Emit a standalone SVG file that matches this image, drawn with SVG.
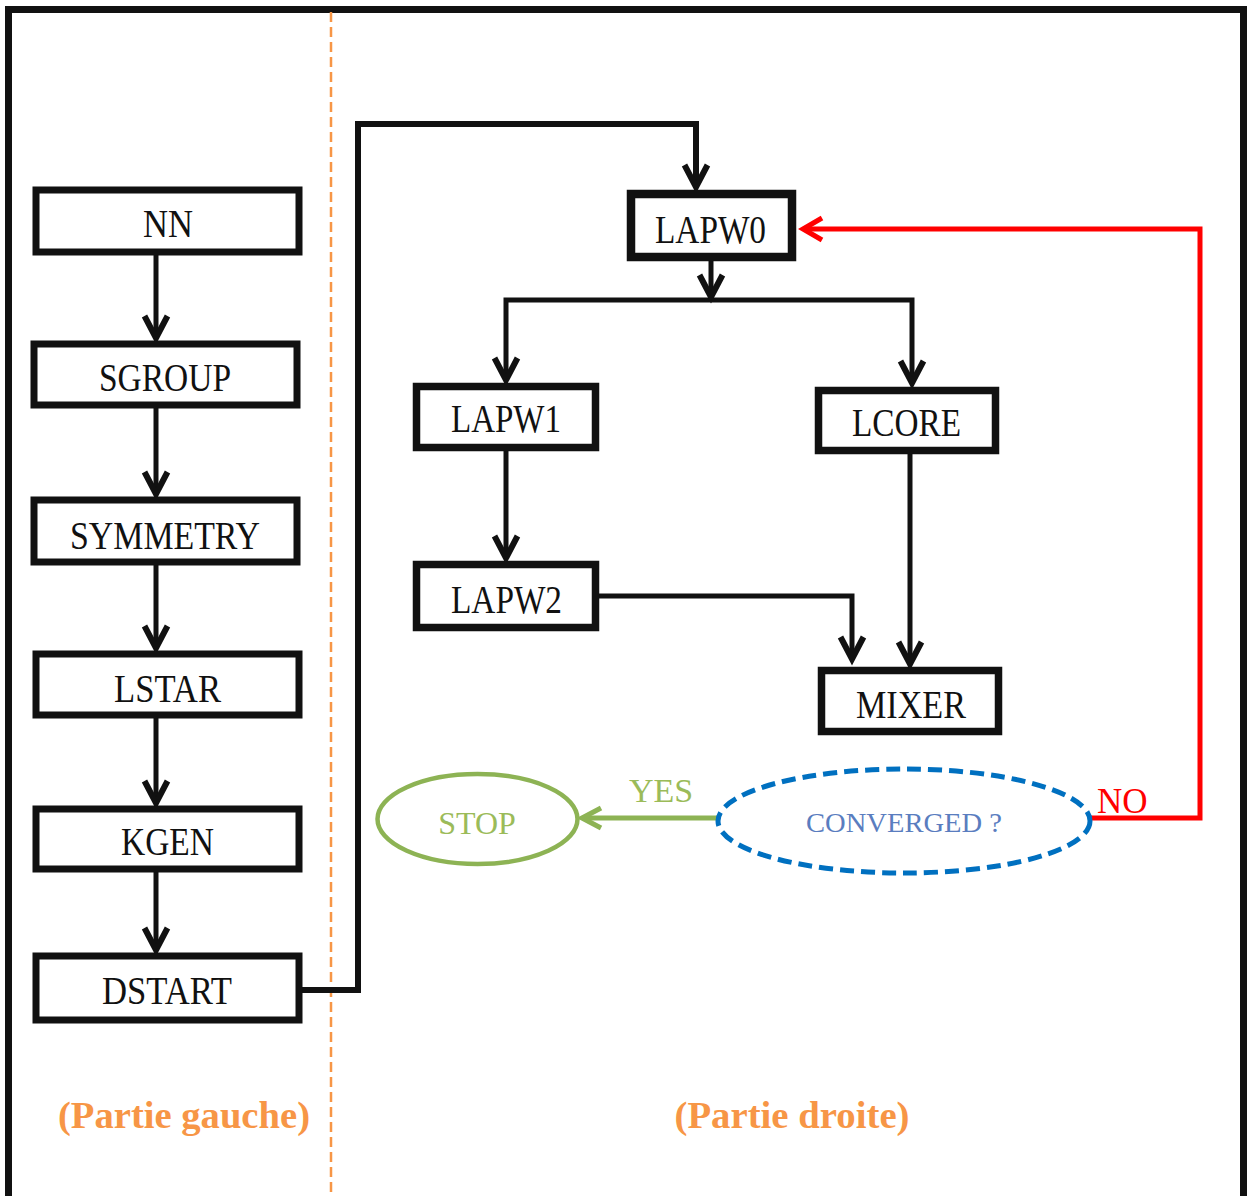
<svg xmlns="http://www.w3.org/2000/svg" width="1251" height="1196" viewBox="0 0 1251 1196">
<style>
.box{fill:#fff;stroke:#111;stroke-width:7}
.boxr{fill:#fff;stroke:#111;stroke-width:7.5}
.lbl{font-family:"Liberation Serif","Times New Roman",serif;font-size:40px;fill:#111;text-anchor:middle}
.con{fill:none;stroke:#111;stroke-width:5}
.part{font-family:"Liberation Serif","Times New Roman",serif;font-size:37px;font-weight:bold;fill:#F79646;text-anchor:middle}
</style>
<defs>
<marker id="arr" markerUnits="userSpaceOnUse" viewBox="-26 -16 30 32" refX="0" refY="0" markerWidth="30" markerHeight="32" orient="auto" overflow="visible">
<path d="M-22,-11.5 L0,0 L-22,11.5" fill="none" stroke="#111" stroke-width="6" stroke-linejoin="miter"/>
</marker>
<marker id="arrR" markerUnits="userSpaceOnUse" viewBox="-26 -16 30 32" refX="0" refY="0" markerWidth="30" markerHeight="32" orient="auto" overflow="visible">
<path d="M-19,-11 L0,0 L-19,11" fill="none" stroke="#ff0000" stroke-width="5"/>
</marker>
<marker id="arrG" markerUnits="userSpaceOnUse" viewBox="-26 -16 30 32" refX="0" refY="0" markerWidth="30" markerHeight="32" orient="auto" overflow="visible">
<path d="M-19,-10 L0,0 L-19,10" fill="none" stroke="#8DB354" stroke-width="5"/>
</marker>
</defs>
<rect width="1251" height="1196" fill="#fff"/>
<rect x="8.5" y="9.5" width="1235" height="1210" fill="none" stroke="#111" stroke-width="7"/>
<line x1="331" y1="12" x2="331" y2="1196" stroke="#F79646" stroke-width="2.5" stroke-dasharray="10 5"/>
<g id="connectors">
<path class="con" d="M156,255 V338" marker-end="url(#arr)"/>
<path class="con" d="M156,408 V494" marker-end="url(#arr)"/>
<path class="con" d="M156,565 V648" marker-end="url(#arr)"/>
<path class="con" d="M156,718 V803" marker-end="url(#arr)"/>
<path class="con" d="M156,872 V950" marker-end="url(#arr)"/>
<path class="con" style="stroke-width:6" d="M302,990 H358 V124 H696 V187" marker-end="url(#arr)"/>
<path class="con" d="M711,261 V297" marker-end="url(#arr)"/>
<path class="con" d="M711,300 H506 V380" marker-end="url(#arr)"/>
<path class="con" d="M711,300 H912 V383" marker-end="url(#arr)"/>
<path class="con" d="M506,451 V558" marker-end="url(#arr)"/>
<path class="con" d="M910,454 V664" marker-end="url(#arr)"/>
<path class="con" d="M599,596 H852 V659" marker-end="url(#arr)"/>
<path fill="none" stroke="#ff0000" stroke-width="5" d="M1091,818 H1200 V229 H803" marker-end="url(#arrR)"/>
<path fill="none" stroke="#8DB354" stroke-width="5" d="M717,818 H582" marker-end="url(#arrG)"/>
</g>
<g id="NN"><rect class="box" x="36" y="190" width="263" height="62"/><text class="lbl" x="168" y="237" textLength="50" lengthAdjust="spacingAndGlyphs">NN</text></g>
<g id="SGROUP"><rect class="box" x="34" y="344" width="263" height="61"/><text class="lbl" x="165" y="391" textLength="132" lengthAdjust="spacingAndGlyphs">SGROUP</text></g>
<g id="SYMMETRY"><rect class="box" x="34" y="500" width="263" height="62"/><text class="lbl" x="165" y="549" textLength="190" lengthAdjust="spacingAndGlyphs">SYMMETRY</text></g>
<g id="LSTAR"><rect class="box" x="36" y="654" width="263" height="61"/><text class="lbl" x="167.5" y="702" textLength="107" lengthAdjust="spacingAndGlyphs">LSTAR</text></g>
<g id="KGEN"><rect class="box" x="36" y="809" width="263" height="60"/><text class="lbl" x="167.5" y="855" textLength="93" lengthAdjust="spacingAndGlyphs">KGEN</text></g>
<g id="DSTART"><rect class="box" x="36" y="956" width="263" height="64"/><text class="lbl" x="167" y="1004" textLength="130" lengthAdjust="spacingAndGlyphs">DSTART</text></g>
<g id="LAPW0"><rect class="boxr" style="stroke-width:8.5" x="631" y="194" width="161" height="63"/><text class="lbl" x="710.5" y="243" textLength="111" lengthAdjust="spacingAndGlyphs">LAPW0</text></g>
<g id="LAPW1"><rect class="boxr" x="416.5" y="386.5" width="179" height="61"/><text class="lbl" x="506" y="432" textLength="110" lengthAdjust="spacingAndGlyphs">LAPW1</text></g>
<g id="LCORE"><rect class="boxr" x="818.5" y="390.5" width="177" height="60"/><text class="lbl" x="906.5" y="436" textLength="109" lengthAdjust="spacingAndGlyphs">LCORE</text></g>
<g id="LAPW2"><rect class="boxr" x="416.5" y="564.5" width="179" height="63"/><text class="lbl" x="506.5" y="613" textLength="111" lengthAdjust="spacingAndGlyphs">LAPW2</text></g>
<g id="MIXER"><rect class="boxr" x="821.5" y="670.5" width="177" height="61"/><text class="lbl" x="911" y="718" textLength="110" lengthAdjust="spacingAndGlyphs">MIXER</text></g>
<g id="STOP"><ellipse cx="477.5" cy="819" rx="100" ry="45" fill="#fff" stroke="#8DB354" stroke-width="4.5"/><text x="477" y="834" font-family="Liberation Serif, serif" font-size="32" fill="#9BBB59" text-anchor="middle">STOP</text></g>
<g id="CONVERGED"><ellipse cx="904" cy="821" rx="186" ry="52" fill="#fff" stroke="#0070C0" stroke-width="5" stroke-dasharray="14 7"/><text x="904" y="832" font-family="Liberation Serif, serif" font-size="28" fill="#5A7DBF" text-anchor="middle" textLength="196" lengthAdjust="spacingAndGlyphs">CONVERGED ?</text></g>
<text x="661" y="802" font-family="Liberation Serif, serif" font-size="34" fill="#9BBB59" text-anchor="middle">YES</text>
<text x="1097" y="813" font-family="Liberation Serif, serif" font-size="35" fill="#ff0000">NO</text>
<text class="part" x="184" y="1128" textLength="252" lengthAdjust="spacingAndGlyphs">(Partie gauche)</text>
<text class="part" x="792" y="1128" textLength="235" lengthAdjust="spacingAndGlyphs">(Partie droite)</text>
</svg>
